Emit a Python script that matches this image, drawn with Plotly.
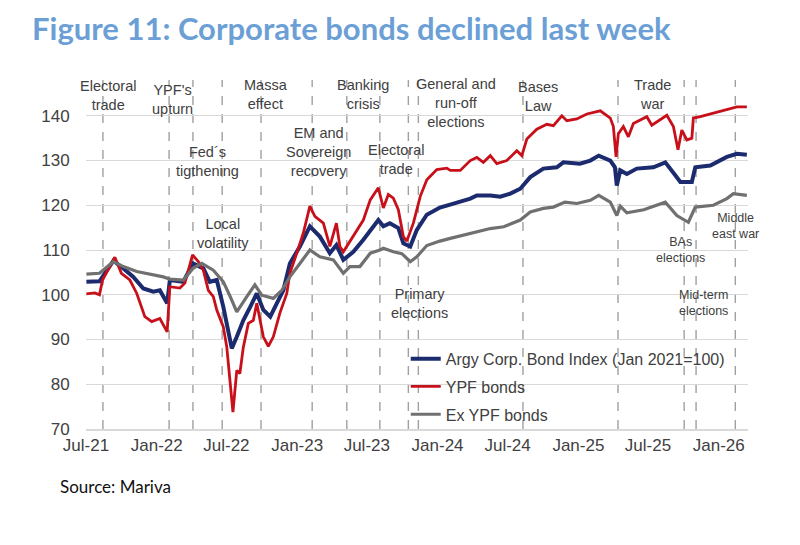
import plotly.graph_objects as go

# Argy Corp. Bond Index (Jan 2021=100)
idx_dates = ["2021-07-02", "2021-08-05", "2021-08-19", "2021-09-10", "2021-10-06", "2021-11-01",
             "2021-11-27", "2021-12-23", "2022-01-09", "2022-01-28", "2022-02-04", "2022-03-11",
             "2022-04-05", "2022-05-02", "2022-05-19", "2022-06-06", "2022-06-23", "2022-07-06",
             "2022-07-15", "2022-07-28", "2022-08-14", "2022-09-01", "2022-09-18", "2022-10-05",
             "2022-10-23", "2022-11-09", "2022-11-26", "2022-12-13", "2023-01-08", "2023-02-03",
             "2023-03-01", "2023-03-27", "2023-04-13", "2023-05-01", "2023-05-27", "2023-06-22",
             "2023-07-10", "2023-07-31", "2023-08-13", "2023-08-30", "2023-09-21", "2023-10-04",
             "2023-10-22", "2023-11-08", "2023-12-04", "2024-01-07", "2024-02-05", "2024-03-26",
             "2024-04-12", "2024-05-17", "2024-06-12", "2024-07-08", "2024-08-03", "2024-08-29",
             "2024-10-02", "2024-11-06", "2024-11-23", "2025-01-05", "2025-02-01", "2025-02-23",
             "2025-03-25", "2025-04-06", "2025-04-11", "2025-04-20", "2025-05-07", "2025-06-02",
             "2025-07-15", "2025-08-15", "2025-09-10", "2025-09-23", "2025-10-23", "2025-11-01",
             "2025-12-10", "2026-01-22", "2026-02-17", "2026-03-15"]
idx_vals = [102.9, 103.0, 104.8, 107.6, 105.9, 104.0,
            101.4, 100.7, 101.0, 98.1, 103.3, 102.9,
            107.0, 105.9, 102.9, 103.3, 97.3, 92.1,
            88.0, 90.6, 94.3, 97.3, 100.3, 96.6,
            95.1, 98.1, 101.0, 107.0, 110.8, 115.3,
            113.0, 109.3, 111.1, 107.8, 109.6, 112.3,
            114.5, 116.7, 115.3, 116.0, 114.9, 111.5,
            110.8, 114.5, 117.9, 119.5, 120.2, 121.5,
            122.2, 122.2, 121.9, 122.6, 123.7, 126.3,
            128.2, 128.5, 129.6, 129.3, 130.0, 131.1,
            130.0, 128.5, 124.4, 127.8, 127.0, 128.2,
            128.5, 129.6, 126.7, 125.2, 125.2, 128.5,
            128.9, 130.8, 131.5, 131.3]

# YPF bonds
ypf_dates = ["2021-07-02", "2021-07-24", "2021-08-05", "2021-08-13", "2021-09-14", "2021-10-01",
             "2021-10-23", "2021-11-10", "2021-12-01", "2021-12-19", "2022-01-09", "2022-01-28",
             "2022-02-04", "2022-03-02", "2022-03-15", "2022-04-04", "2022-04-19", "2022-05-02",
             "2022-05-15", "2022-05-28", "2022-06-06", "2022-06-23", "2022-07-02", "2022-07-11",
             "2022-07-18", "2022-07-28", "2022-08-05", "2022-08-14", "2022-08-27", "2022-09-09",
             "2022-09-18", "2022-10-05", "2022-10-18", "2022-10-31", "2022-11-17", "2022-12-05",
             "2022-12-13", "2022-12-31", "2023-01-17", "2023-02-03", "2023-02-16", "2023-03-10",
             "2023-03-27", "2023-04-13", "2023-04-22", "2023-05-01", "2023-05-10", "2023-05-27",
             "2023-06-22", "2023-07-10", "2023-07-31", "2023-08-13", "2023-08-26", "2023-09-08",
             "2023-09-21", "2023-10-04", "2023-10-13", "2023-10-30", "2023-11-17", "2023-12-04",
             "2023-12-30", "2024-01-25", "2024-02-03", "2024-02-29", "2024-03-26", "2024-04-12",
             "2024-04-29", "2024-05-17", "2024-06-03", "2024-06-29", "2024-07-25", "2024-08-07",
             "2024-08-20", "2024-09-15", "2024-10-11", "2024-10-28", "2024-11-19", "2024-12-02",
             "2024-12-28", "2025-01-23", "2025-02-27", "2025-03-25", "2025-04-02", "2025-04-09",
             "2025-04-15", "2025-04-28", "2025-05-11", "2025-05-24", "2025-06-28", "2025-07-11",
             "2025-08-19", "2025-09-05", "2025-09-17", "2025-09-27", "2025-10-10", "2025-10-23",
             "2025-10-27", "2025-11-14", "2025-12-18", "2026-01-22", "2026-02-17", "2026-03-15"]
ypf_vals = [100.2, 100.4, 100.0, 103.3, 108.4, 104.8,
            103.3, 100.3, 95.1, 94.0, 94.7, 91.7,
            101.8, 101.5, 102.6, 108.9, 107.4, 105.5,
            101.0, 99.6, 96.6, 92.8, 88.3, 80.9,
            73.8, 83.1, 82.4, 88.3, 93.6, 94.3,
            98.1, 90.6, 88.5, 90.6, 95.9, 100.3,
            104.8, 109.3, 113.8, 119.8, 117.5, 116.0,
            110.8, 116.0, 110.8, 109.6, 110.8, 113.0,
            116.7, 121.2, 123.9, 119.4, 122.4, 121.6,
            119.0, 113.0, 112.0, 116.0, 122.0, 125.7,
            128.0, 128.3, 127.8, 127.8, 130.0, 130.7,
            129.6, 131.1, 129.3, 130.0, 132.2, 131.1,
            134.8, 137.0, 138.1, 137.8, 140.0, 138.9,
            139.3, 140.4, 141.1, 139.5, 137.6, 130.8,
            136.0, 137.6, 135.3, 138.3, 139.8, 137.9,
            140.1, 137.6, 132.4, 136.8, 134.6, 135.0,
            139.5, 139.8, 140.6, 141.3, 142.0, 142.0]

# Ex YPF bonds
ex_dates = ["2021-07-02", "2021-08-05", "2021-09-10", "2021-10-06", "2021-11-10", "2021-12-23",
            "2022-01-18", "2022-02-04", "2022-03-11", "2022-04-05", "2022-04-28", "2022-05-28",
            "2022-06-23", "2022-07-11", "2022-07-28", "2022-08-23", "2022-09-13", "2022-10-01",
            "2022-10-18", "2022-10-31", "2022-11-22", "2022-12-13", "2023-01-08", "2023-02-03",
            "2023-03-01", "2023-04-05", "2023-05-01", "2023-05-18", "2023-06-13", "2023-07-10",
            "2023-08-04", "2023-08-13", "2023-09-08", "2023-09-30", "2023-10-22", "2023-11-08",
            "2023-12-04", "2024-01-07", "2024-02-03", "2024-03-08", "2024-04-12", "2024-05-17",
            "2024-06-21", "2024-08-03", "2024-08-29", "2024-10-02", "2024-10-28", "2024-11-27",
            "2024-12-28", "2025-02-01", "2025-02-23", "2025-03-25", "2025-04-11", "2025-04-20",
            "2025-05-07", "2025-06-20", "2025-08-15", "2025-09-14", "2025-10-14", "2025-11-01",
            "2025-12-18", "2026-01-22", "2026-02-08", "2026-03-15"]
ex_vals = [104.6, 104.8, 107.4, 106.3, 105.2, 104.4,
           104.0, 103.5, 103.3, 105.9, 107.0, 105.5,
           102.9, 99.6, 96.2, 99.6, 102.2, 99.9,
           99.6, 99.2, 101.0, 104.0, 107.0, 110.0,
           108.5, 107.8, 104.8, 106.3, 106.3, 109.3,
           110.0, 110.4, 109.6, 109.2, 107.4, 108.5,
           111.0, 112.0, 112.6, 113.3, 114.1, 114.8,
           115.2, 116.7, 118.5, 119.3, 119.6, 120.7,
           120.4, 121.1, 122.2, 120.7, 117.7, 119.8,
           118.3, 119.0, 120.7, 117.7, 116.2, 119.6,
           120.0, 121.5, 122.6, 122.2]

# event markers (dashed vertical lines)
event_dates = ["2021-08-14", "2022-02-02", "2022-04-05", "2022-06-20", "2022-09-29", "2023-02-09",
               "2023-05-10", "2023-08-04", "2023-10-17", "2023-11-12", "2024-08-10", "2025-04-14",
               "2025-10-03", "2025-11-03", "2026-02-13"]

# event labels: text, x date, y value (centre of text block)
event_labels = [
    ("Electoral<br>trade", "2021-08-27", 144.5),
    ("YPF's<br>upturn", "2022-02-10", 143.6),
    ("Massa<br>effect", "2022-10-12", 144.8),
    ("Banking<br>crisis", "2023-06-21", 144.8),
    ("General and<br>run-off<br>elections", "2024-02-19", 142.9),
    ("Bases<br>Law", "2024-09-19", 144.4),
    ("Trade<br>war", "2025-07-12", 144.8),
    ("Fed´s<br>tigthening", "2022-05-12", 129.8),
    ("EM and<br>Sovereign<br>recovery", "2023-02-25", 131.9),
    ("Electoral<br>trade", "2023-09-16", 130.3),
    ("Local<br>volatility", "2022-06-22", 113.6),
    ("Primary<br>elections", "2023-11-14", 98.1),
    ("BAs<br>elections", "2025-09-24", 110.1),
    ("Middle<br>east war", "2026-02-13", 115.3),
    ("Mid-term<br>elections", "2025-11-22", 98.1),
]

fig = go.Figure()

for d in event_dates:
    fig.add_shape(type="line", x0=d, x1=d, y0=70, y1=148, xref="x", yref="y",
                  line=dict(color="#a0a0a0", width=1.4, dash="dash"), layer="below")

fig.add_trace(go.Scatter(x=idx_dates, y=idx_vals, mode="lines", legendgroup="a",
                         name="Argy Corp. Bond Index (Jan 2021=100)",
                         line=dict(color="#1c2b6e", width=4)))
fig.add_trace(go.Scatter(x=ypf_dates, y=ypf_vals, mode="lines", name="YPF bonds", legendgroup="b",
                         line=dict(color="#c8101a", width=2.8)))
fig.add_trace(go.Scatter(x=ex_dates, y=ex_vals, mode="lines", name="Ex YPF bonds", legendgroup="c",
                         line=dict(color="#707070", width=3.2)))

for text, x, y in event_labels:
    small = text.startswith(("BAs", "Middle", "Mid-term"))
    fig.add_annotation(x=x, y=y, text=text, showarrow=False, xanchor="center", yanchor="middle",
                       font=dict(family="Liberation Sans, Arial", size=12.5 if small else 14.5,
                                 color="#404040"))

fig.add_annotation(text="Source: Mariva", xref="paper", yref="paper",
                   x=-0.043, y=-0.165, xanchor="left", yanchor="middle", showarrow=False,
                   font=dict(family="Lato", size=17, color="#111111"))

# page body has an 8px margin, so margins are offset to keep the plot in place
fig.update_layout(
    width=800, height=545,
    margin=dict(l=78, r=60, t=72, b=124),
    title=dict(text="Figure 11: Corporate bonds declined last week", xref="container",
               yref="container", x=0.03, y=0.962, xanchor="left", yanchor="middle",
               font=dict(family="Lato", size=31, color="#6b9fd6", weight="bold")),
    plot_bgcolor="white", paper_bgcolor="white",
    font=dict(family="Liberation Sans, Arial", color="#404040"),
    showlegend=True,
    legend=dict(x=0.483, y=0.25, xanchor="left", yanchor="top", bgcolor="rgba(0,0,0,0)",
                font=dict(size=16, color="#404040"), tracegroupgap=4),
    xaxis=dict(range=["2021-07-01", "2026-03-18"], type="date", dtick="M6",
               tick0="2021-07-01", tickformat="%b-%y", showgrid=False,
               showline=True, linecolor="#d9d9d9", linewidth=1.5,
               ticks="", tickfont=dict(size=17, color="#404040")),
    yaxis=dict(range=[70, 148], tick0=70, dtick=10, showgrid=True, gridcolor="#d9d9d9",
               gridwidth=1.2, zeroline=False, showline=False, ticks="outside", ticklen=12,
               tickcolor="rgba(0,0,0,0)", tickfont=dict(size=17, color="#404040")),
)

fig.write_html("out.html")
